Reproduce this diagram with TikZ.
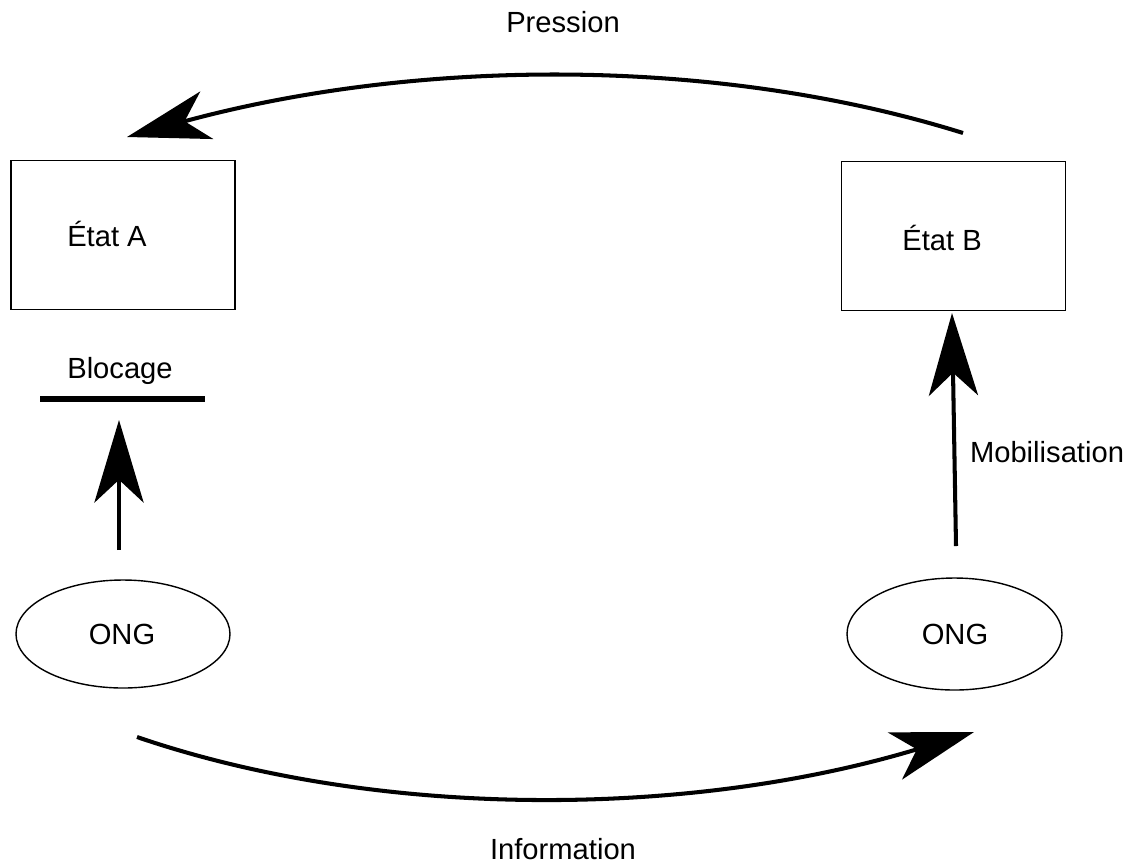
\documentclass[tikz,border=0pt]{standalone}
\usepackage{fontspec}
\setmainfont{Liberation Sans}
\usetikzlibrary{arrows.meta,shapes.geometric}
\begin{document}
\begin{tikzpicture}[x=0.02cm,y=-0.02cm,
  lbl/.style={font=\fontsize{16.6}{19}\selectfont, inner sep=0pt},
  statebox/.style={draw, line width=0.8pt, minimum width=224*0.02cm, minimum height=149*0.02cm, inner sep=0pt},
  ongell/.style={draw, ellipse, line width=0.8pt, inner sep=0pt},
  bigarrow/.style={line width=2.3pt, -{Stealth[length=47pt, width=28pt, inset=13pt]}},
]
\useasboundingbox (0,0) rectangle (1131,863);
% boxes
\node[statebox] (A) at (123,235) {};
\node[lbl] (At) at (107,234) {État A};
\node[statebox] (B) at (953.5,236) {};
\node[lbl] (Bt) at (942,238) {État B};
% ellipses
\node[ongell, minimum width=214*0.02cm, minimum height=108*0.02cm] (O1) at (123,634) {};
\node[lbl] (O1t) at (122,634) {ONG};
\node[ongell, minimum width=215*0.02cm, minimum height=112*0.02cm] (O2) at (954.5,634) {};
\node[lbl] (O2t) at (955,634) {ONG};
% blocage
\node[lbl] (Bl) at (120,371) {Blocage};
\coordinate (barL) at (40,399);
\coordinate (barR) at (205,399);
\draw[line width=2.9pt] (barL) -- (barR);
% vertical arrows
\coordinate (l0) at (119,550);
\coordinate (l1) at (119,420);
\draw[bigarrow] (l0) -- (l1);
\coordinate (r0) at (956,546);
\coordinate (r1) at (952,313);
\draw[bigarrow] (r0) -- (r1);
\node[lbl] (Mob) at (1047,452) {Mobilisation};
% curved arrows
\coordinate (t0) at (963,133);
\coordinate (t1) at (127,137);
\draw[bigarrow] (t0) .. controls (720,57) and (420,57) .. (t1);
\node[lbl] (Pr) at (563,22) {Pression};
\coordinate (b0) at (137,737);
\coordinate (b1) at (974,732);
\draw[bigarrow] (b0) .. controls (380,820) and (690,818) .. (b1);
\node[lbl] (Inf) at (563,849) {Information};
\end{tikzpicture}
\end{document}
